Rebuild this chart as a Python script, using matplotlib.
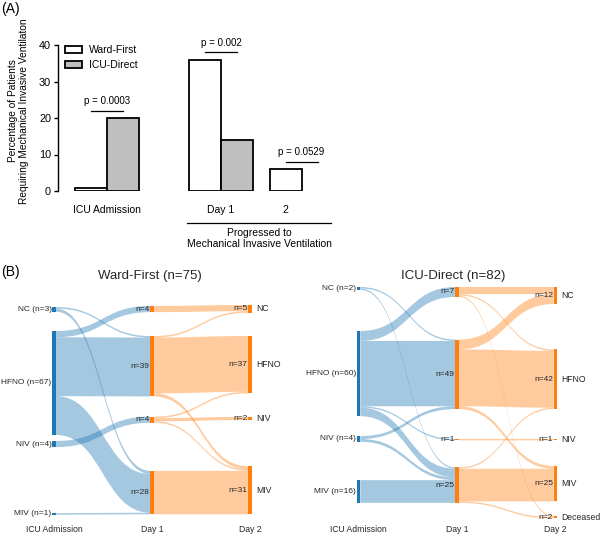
import matplotlib
matplotlib.use("Agg")
import matplotlib.pyplot as plt
import matplotlib.transforms as mtransforms
from matplotlib.patches import Rectangle, PathPatch
from matplotlib.path import Path

plt.rcParams['font.family'] = ['Liberation Sans', 'DejaVu Sans']

# ---------------- panel A data ----------------
groups = ["ICU Admission", "Day 1", "2"]
ward_first = [0.8, 36, 6]
icu_direct = [20, 14, 0]
p_values = ["p = 0.0003", "p = 0.002", "p = 0.0529"]
group_x = [0, 3.56, 6.08]   # group centres (bar width = 1)

# ---------------- panel B data ----------------
stages = ["ICU Admission", "Day 1", "Day 2"]

wf_nodes = [["NC", "HFNO", "NIV", "MIV"],
            ["NC", "HFNO", "NIV", "MIV"],
            ["NC", "HFNO", "NIV", "MIV"]]
wf_counts = [[3, 67, 4, 1], [4, 39, 4, 28], [5, 37, 2, 31]]
# (from stage, source, target, n)
wf_links = [
    (0, "NC", "HFNO", 1), (0, "NC", "MIV", 2),
    (0, "HFNO", "NC", 4), (0, "HFNO", "HFNO", 38), (0, "HFNO", "MIV", 25),
    (0, "NIV", "NIV", 4), (0, "MIV", "MIV", 1),
    (1, "NC", "NC", 4),
    (1, "HFNO", "NC", 1), (1, "HFNO", "HFNO", 36), (1, "HFNO", "MIV", 2),
    (1, "NIV", "HFNO", 1), (1, "NIV", "NIV", 2), (1, "NIV", "MIV", 1),
    (1, "MIV", "MIV", 28),
]
# node top positions (layout, like plotly node.y)
wf_tops = [[1.3, 16.8, 87.7, 134.3], [0.6, 20, 72, 107], [0, 20, 72.2, 104]]

icu_nodes = [["NC", "HFNO", "NIV", "MIV"],
             ["NC", "HFNO", "NIV", "MIV"],
             ["NC", "HFNO", "NIV", "MIV", "Deceased"]]
icu_counts = [[2, 60, 4, 16], [7, 49, 1, 25], [12, 42, 1, 25, 2]]
icu_links = [
    (0, "NC", "HFNO", 1), (0, "NC", "MIV", 1),
    (0, "HFNO", "NC", 7), (0, "HFNO", "HFNO", 46), (0, "HFNO", "NIV", 1), (0, "HFNO", "MIV", 6),
    (0, "NIV", "HFNO", 2), (0, "NIV", "MIV", 2),
    (0, "MIV", "MIV", 16),
    (1, "NC", "NC", 5), (1, "NC", "HFNO", 1), (1, "NC", "Deceased", 1),
    (1, "HFNO", "NC", 7), (1, "HFNO", "HFNO", 40), (1, "HFNO", "MIV", 2),
    (1, "NIV", "NIV", 1),
    (1, "MIV", "HFNO", 1), (1, "MIV", "MIV", 23), (1, "MIV", "Deceased", 1),
]
icu_tops = [[0, 31, 105, 136], [0, 37, 107, 127], [0, 44, 107, 126, 161]]

BLUE = '#1f77b4'
ORANGE = '#ff7f0e'
TXT = '#262626'

W, H = 600, 537
fig = plt.figure(figsize=(W / 100, H / 100), dpi=100)


def px_axes(left, top, right, bottom):
    return fig.add_axes([left / W, 1 - bottom / H, (right - left) / W, (bottom - top) / H])


# ================= Panel A =================
axA = px_axes(58, 45, 340, 191)
bw = 1.0
wx = [g - bw / 2 for g in group_x]
ix = [g + bw / 2 for g in group_x]
axA.bar(wx, ward_first, width=bw, color='white', edgecolor='black', lw=1.3, label='Ward-First')
keep = [i for i, v in enumerate(icu_direct) if v > 0]
axA.bar([ix[i] for i in keep], [icu_direct[i] for i in keep], width=bw,
        color='#bfbfbf', edgecolor='black', lw=1.3, label='ICU-Direct')

for i, p in enumerate(p_values):
    y = max(ward_first[i], icu_direct[i]) + 2
    axA.plot([wx[i], ix[i]], [y, y], color='black', lw=0.9)
    axA.text(group_x[i], y + 1.8, p, ha='center', va='baseline', fontsize=7)

tick_x = [group_x[i] if icu_direct[i] > 0 else wx[i] for i in range(len(groups))]
axA.set_xticks(tick_x, groups)
axA.tick_params(axis='x', length=0, pad=10, labelsize=7.5)
axA.set_xlim(-1.53, 7.28)
axA.set_ylim(0, 40)
axA.set_yticks([0, 10, 20, 30, 40])
axA.tick_params(axis='y', length=3, width=1, labelsize=7.8, pad=2)
for s in ['top', 'right', 'bottom']:
    axA.spines[s].set_visible(False)
axA.spines['left'].set_linewidth(1)
axA.set_ylabel("Percentage of Patients\nRequiring Mechanical Invasive Ventilaton",
               fontsize=7.3, labelpad=7, y=0.55, linespacing=1.1)

# bracket under day 1 / 2
axA.plot([2.5, 7.0], [-8.8, -8.8], color='black', lw=0.9, clip_on=False)
axA.text(4.75, -13, "Progressed to\nMechanical Invasive Ventilation", ha='center', va='center',
         fontsize=7.5, linespacing=1.15)

axA.legend(loc='upper left', bbox_to_anchor=(0.025, 1.0), frameon=False, fontsize=7.5,
           handlelength=1.6, handleheight=0.7, handletextpad=0.7, labelspacing=0.5,
           borderaxespad=0, borderpad=0)

fig.text(1 / W, 1 - 9 / H, "(A)", fontsize=10, va='center', ha='left')
fig.text(1 / W, 1 - 272 / H, "(B)", fontsize=10, va='center', ha='left')


# ================= Panel B =================
def draw_sankey(ax, nodes, counts, tops, links):
    nw = 0.036
    top, size = {}, {}
    for s in range(len(nodes)):
        for name, n, y in zip(nodes[s], counts[s], tops[s]):
            top[(s, name)] = y
            size[(s, name)] = n

    def mid(k):
        return top[k] + size[k] / 2

    # stack links inside each node, ordered by the position of the other end
    src_y, dst_y = {}, {}
    acc = dict(top)
    for i in sorted(range(len(links)), key=lambda i: mid((links[i][0] + 1, links[i][2]))):
        s, a, b, n = links[i]
        src_y[i] = acc[(s, a)]
        acc[(s, a)] += n
    acc = dict(top)
    for i in sorted(range(len(links)), key=lambda i: mid((links[i][0], links[i][1]))):
        s, a, b, n = links[i]
        dst_y[i] = acc[(s + 1, b)]
        acc[(s + 1, b)] += n

    for i, (s, a, b, n) in enumerate(links):
        x0, x1 = s + nw / 2, s + 1 - nw / 2
        xm = (x0 + x1) / 2
        y0, y1 = src_y[i], dst_y[i]
        verts = [(x0, y0), (xm, y0), (xm, y1), (x1, y1), (x1, y1 + n),
                 (xm, y1 + n), (xm, y0 + n), (x0, y0 + n), (x0, y0)]
        codes = [Path.MOVETO, Path.CURVE4, Path.CURVE4, Path.CURVE4, Path.LINETO,
                 Path.CURVE4, Path.CURVE4, Path.CURVE4, Path.CLOSEPOLY]
        ax.add_patch(PathPatch(Path(verts, codes), fc=BLUE if s == 0 else ORANGE,
                               alpha=0.4, lw=0, zorder=1))

    for (s, name), y in top.items():
        n = size[(s, name)]
        ax.add_patch(Rectangle((s - nw / 2, y), nw, n, fc=BLUE if s == 0 else ORANGE,
                               lw=0, zorder=3))
        yc = y + n / 2
        left_txt = f"{name} (n={n})" if s == 0 else f"n={n}"
        ax.annotate(left_txt, (s - nw / 2, yc), xytext=(-0.5, 0), textcoords='offset points',
                    ha='right', va='center', fontsize=6, color=TXT, zorder=4)
        if s == len(nodes) - 1:
            ax.annotate(name, (s + nw / 2, yc), xytext=(3, 0), textcoords='offset points',
                        ha='left', va='center', fontsize=6.2, color=TXT, zorder=4)

    tr = mtransforms.blended_transform_factory(ax.transData, ax.transAxes)
    for s, lab in enumerate(stages):
        ax.text(s, 0.03, lab, transform=tr, ha='center', va='center', fontsize=6.2, color=TXT)
    ax.axis('off')


def setup(ax, left_px, col0_px, step_px, y0_px, unit_px, top_px=280, bottom_px=537, width_px=300):
    ax.set_xlim(-(col0_px - left_px) / step_px, (left_px + width_px - col0_px) / step_px)
    ax.set_ylim((bottom_px - y0_px) / unit_px, (top_px - y0_px) / unit_px)


axL = px_axes(0, 280, 300, 537)
setup(axL, 0, 54, 98, 305, 1.55)
draw_sankey(axL, wf_nodes, wf_counts, wf_tops, wf_links)
axL.text(0.5, 1.017, "Ward-First (n=75)", transform=axL.transAxes, ha='center',
         va='center', fontsize=9.5, color=TXT)

axR = px_axes(300, 280, 600, 537)
setup(axR, 300, 358.5, 98.5, 287, 1.42)
draw_sankey(axR, icu_nodes, icu_counts, icu_tops, icu_links)
axR.text(0.51, 1.017, "ICU-Direct (n=82)", transform=axR.transAxes, ha='center',
         va='center', fontsize=9.5, color=TXT)

fig.savefig("out.png", dpi=100)
